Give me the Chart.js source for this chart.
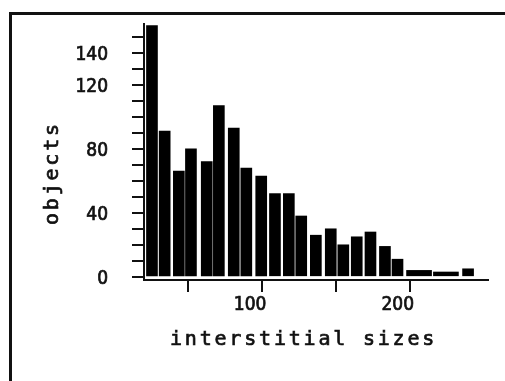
<!DOCTYPE html>
<html>
<head>
<meta charset="utf-8">
<script src="https://cdn.jsdelivr.net/npm/chart.js@4.4.1/dist/chart.umd.min.js"></script>
<style>
  html, body { margin: 0; padding: 0; background: #fff; }
  #wrap { position: relative; width: 505px; height: 381px; overflow: hidden; }
  #frame {
    position: absolute; left: 9px; top: 12px; right: -10px; bottom: -10px;
    border-left: 3px solid #111; border-top: 3px solid #111;
  }
  canvas { position: absolute; left: 0; top: 0; }
</style>
</head>
<body>
<div id="wrap">
  <div id="frame"></div>
  <canvas id="chart" width="505" height="381"></canvas>
</div>
<script>
// histogram bins (centre of each bin, in interstitial size units) and counts
const binCenters = [25.4, 34.0, 43.6, 51.8, 62.5, 70.7, 80.8, 89.3, 99.4, 108.7,
  118.1, 126.5, 136.4, 146.5, 155.0, 164.1, 173.4, 183.2, 191.7, 239.5];
const counts = [157, 91, 66, 80, 72, 107, 93, 68, 63, 52,
  52, 38, 26, 30, 20, 25, 28, 19, 11, 5];

// the two wide, flat bins in the tail
const tailCenters = [206.3, 224.5];
const tailCounts = [4, 3];

const xTicks = [50, 100, 150, 200];
const xLabels = [100, 200];
const yTicks = [0, 10, 20, 30, 40, 50, 60, 70, 80, 90, 100, 110, 120, 130, 140, 150];
const yLabels = [0, 40, 80, 120, 140];

const xTitle = 'interstitial sizes';
const yTitle = 'objects';

const ink = '#111';
const tickFont = { family: '"DejaVu Sans Condensed", "DejaVu Sans"', size: 19 };

const axisTitles = {
  id: 'axisTitles',
  afterDraw(chart) {
    const ctx = chart.ctx;
    ctx.save();
    ctx.fillStyle = '#111';
    ctx.strokeStyle = '#111';
    ctx.lineWidth = 0.7;
    ctx.font = '20px "DejaVu Sans Mono"';
    ctx.letterSpacing = '2.8px';
    ctx.textAlign = 'left';
    ctx.textBaseline = 'alphabetic';
    ctx.fillText(xTitle, 170, 345);
    ctx.strokeText(xTitle, 170, 345);
    ctx.translate(58, 225);
    ctx.rotate(-Math.PI / 2);
    ctx.fillText(yTitle, 0, 0);
    ctx.strokeText(yTitle, 0, 0);
    ctx.restore();
  }
};

new Chart(document.getElementById('chart'), {
  type: 'bar',
  data: {
    datasets: [
      {
        label: 'objects',
        data: binCenters.map((x, i) => ({ x, y: counts[i] })),
        backgroundColor: '#000',
        barThickness: 11,
        grouped: false
      },
      {
        label: 'objects (tail)',
        data: tailCenters.map((x, i) => ({ x, y: tailCounts[i] })),
        backgroundColor: '#000',
        barThickness: 25,
        grouped: false
      }
    ]
  },
  options: {
    responsive: false,
    animation: false,
    devicePixelRatio: 1,
    layout: { padding: { top: 24, right: 17, left: 0, bottom: 0 } },
    plugins: { legend: { display: false }, tooltip: { enabled: false } },
    scales: {
      x: {
        type: 'linear',
        min: 20,
        max: 253,
        offset: false,
        afterFit: s => { s.height = 101; s.paddingLeft = 0; s.paddingRight = 0; },
        afterBuildTicks: s => { s.ticks = xTicks.map(v => ({ value: v })); },
        border: { color: ink, width: 2 },
        grid: { offset: false, drawOnChartArea: false, color: ink, lineWidth: 2, tickLength: 12 },
        ticks: {
          autoSkip: false,
          maxRotation: 0,
          padding: 2,
          labelOffset: -12,
          color: '#111',
          textStrokeColor: '#111',
          textStrokeWidth: 0.7,
          font: tickFont,
          callback: v => (xLabels.includes(v) ? String(v) : '')
        }
      },
      y: {
        min: -2,
        max: 158,
        afterFit: s => { s.width = 144; s.paddingTop = 0; s.paddingBottom = 0; },
        afterBuildTicks: s => { s.ticks = yTicks.map(v => ({ value: v })); },
        border: { color: ink, width: 2 },
        grid: { drawOnChartArea: false, color: ink, lineWidth: 2, tickLength: 12 },
        ticks: {
          autoSkip: false,
          padding: 24,
          labelOffset: 2,
          color: '#111',
          textStrokeColor: '#111',
          textStrokeWidth: 0.7,
          font: tickFont,
          callback: v => (yLabels.includes(v) ? String(v) : '')
        }
      }
    }
  },
  plugins: [axisTitles]
});
</script>
</body>
</html>
